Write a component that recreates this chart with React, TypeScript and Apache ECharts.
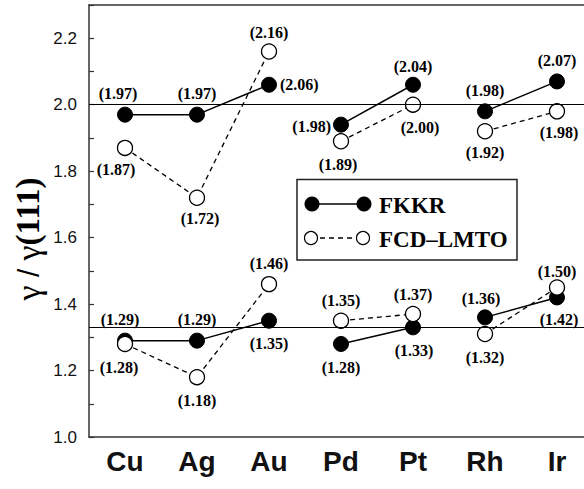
import React, { useEffect, useRef } from "react";
import * as echarts from "echarts";

const categories = ["Cu", "Ag", "Au", "Pd", "Pt", "Rh", "Ir"];

const fkkrUpper = [1.97, 1.97, 2.06, 1.94, 2.06, 1.98, 2.07];
const fkkrUpperLabels = ["1.97", "1.97", "2.06", "1.98", "2.04", "1.98", "2.07"];
const fcdUpper = [1.87, 1.72, 2.16, 1.89, 2.0, 1.92, 1.98];
const fcdUpperLabels = ["1.87", "1.72", "2.16", "1.89", "2.00", "1.92", "1.98"];

const fkkrLower = [1.29, 1.29, 1.35, 1.28, 1.33, 1.36, 1.42];
const fkkrLowerLabels = ["1.29", "1.29", "1.35", "1.28", "1.33", "1.36", "1.42"];
const fcdLower = [1.28, 1.18, 1.46, 1.35, 1.37, 1.31, 1.45];
const fcdLowerLabels = ["1.28", "1.18", "1.46", "1.35", "1.37", "1.32", "1.50"];

const groups = [[0, 1, 2], [3, 4], [5, 6]];
const referenceLines = [2.0, 4 / 3];

type Place = [string, number, number, number?];
// label placement: position, offsetX, offsetY, distance
const fkkrUpperPlace: Place[] = [
  ["top", -7, 0], ["top", 0, 0], ["right", 0, 0, 3], ["left", 0, 2, 2],
  ["top", 0, 0, 2], ["top", 0, 0], ["top", 0, 0],
];
const fcdUpperPlace: Place[] = [
  ["bottom", -9, 0], ["bottom", 3, 0], ["top", 0, 0, 3], ["bottom", -3, 2],
  ["bottom", 7, 2], ["bottom", 0, 0], ["bottom", 2, 0],
];
const fkkrLowerPlace: Place[] = [
  ["top", -5, 0], ["top", 0, 0], ["bottom", 0, 0, 7], ["bottom", 0, 0, 8],
  ["bottom", 1, 0, 7], ["top", -4, 0, 3], ["bottom", 2, 0, 6],
];
const fcdLowerPlace: Place[] = [
  ["bottom", -6, 0, 7], ["bottom", 0, 0, 7], ["top", 0, 0, 4], ["top", 0, 0, 4],
  ["top", 0, 0, 3], ["bottom", 0, 0, 7], ["top", 0, 0, 0],
];

const LABEL_FONT = "Liberation Serif";

function buildSeries(
  name: string,
  values: number[],
  labels: string[],
  places: Place[],
  filled: boolean
) {
  return groups.map((g) => ({
    name,
    type: "line",
    z: filled ? 3 : 4,
    symbol: "circle",
    symbolSize: 15,
    showSymbol: true,
    connectNulls: false,
    itemStyle: filled
      ? { color: "#000", borderColor: "#000", borderWidth: 1 }
      : { color: "#fff", borderColor: "#000", borderWidth: 1.3 },
    lineStyle: filled
      ? { color: "#000", width: 1.5, type: "solid" }
      : { color: "#000", width: 1.3, type: [5, 4] },
    data: categories.map((_, i) => {
      if (!g.includes(i)) return "-";
      const p = places[i];
      return {
        value: values[i],
        label: {
          show: true,
          position: p[0],
          offset: [p[1], p[2]],
          distance: p[3] ?? 5,
          formatter: `(${labels[i]})`,
          fontFamily: LABEL_FONT,
          fontWeight: "bold",
          fontSize: 16,
          color: "#000",
        },
      };
    }),
  }));
}

export default function App() {
  const ref = useRef<HTMLDivElement>(null);

  useEffect(() => {
    if (!ref.current) return;
    const chart = echarts.init(ref.current, null, { renderer: "svg" });

    const series: any[] = [
      {
        name: "ref",
        type: "line",
        z: 1,
        data: [],
        silent: true,
        markLine: {
          silent: true,
          symbol: "none",
          label: { show: false },
          lineStyle: { color: "#000", width: 1.2, type: "solid" },
          data: referenceLines.map((v) => ({ yAxis: v })),
        },
      },
      ...buildSeries("FKKR", fkkrUpper, fkkrUpperLabels, fkkrUpperPlace, true),
      ...buildSeries("FKKR", fkkrLower, fkkrLowerLabels, fkkrLowerPlace, true),
      ...buildSeries("FCD–LMTO", fcdUpper, fcdUpperLabels, fcdUpperPlace, false),
      ...buildSeries("FCD–LMTO", fcdLower, fcdLowerLabels, fcdLowerPlace, false),
    ];

    const axisColor = "#333";

    chart.setOption({
      animation: false,
      backgroundColor: "#fff",
      grid: { left: 89, right: 7, top: 5, bottom: 52, containLabel: false },
      xAxis: [
        {
          type: "category",
          data: categories,
          position: "bottom",
          boundaryGap: true,
          axisLine: { lineStyle: { color: axisColor, width: 1.5 } },
          axisTick: { inside: true, length: 5, alignWithLabel: true, lineStyle: { color: axisColor, width: 1.2 } },
          axisLabel: {
            margin: 10,
            fontFamily: "Liberation Sans",
            fontWeight: "bold",
            fontSize: 28,
            color: "#111",
          },
          splitLine: { show: false },
        },
        {
          type: "category",
          data: categories,
          position: "top",
          boundaryGap: true,
          axisLine: { lineStyle: { color: axisColor, width: 1.5 } },
          axisTick: { inside: true, length: 5, alignWithLabel: true, lineStyle: { color: axisColor, width: 1.2 } },
          axisLabel: { show: false },
          splitLine: { show: false },
        },
      ],
      yAxis: {
        type: "value",
        min: 1.0,
        max: 2.3,
        interval: 0.1,
        axisLine: { show: true, lineStyle: { color: axisColor, width: 1.5 } },
        axisTick: { show: true, inside: true, length: 5, lineStyle: { color: axisColor, width: 1.2 } },
        axisLabel: {
          margin: 12,
          fontFamily: "Liberation Sans",
          fontSize: 17,
          color: "#111",
          formatter: (v: number) => (Math.round(v * 10) % 2 === 0 ? v.toFixed(1) : ""),
        },
        splitLine: { show: false },
      },
      graphic: [
        {
          type: "text",
          x: 28,
          y: 239,
          rotation: Math.PI / 2,
          style: {
            text: "{g|γ}{s| / }{g|γ}{b|(111)}",
            align: "center",
            verticalAlign: "middle",
            fill: "#000",
            rich: {
              g: { fontFamily: "Liberation Serif", fontSize: 34, fill: "#000" },
              s: { fontFamily: "Liberation Sans", fontSize: 30, fill: "#000" },
              b: { fontFamily: "Liberation Serif", fontWeight: "bold", fontSize: 33, fill: "#000" },
            },
          },
        },
        {
          type: "group",
          children: [
            {
              type: "rect",
              shape: { x: 297, y: 179.5, width: 220, height: 80.5 },
              style: { fill: "#fff", stroke: "#222", lineWidth: 1.5 },
            },
            {
              type: "line",
              shape: { x1: 312, y1: 204, x2: 364, y2: 204 },
              style: { stroke: "#000", lineWidth: 1.5 },
            },
            { type: "circle", shape: { cx: 312, cy: 204, r: 7.5 }, style: { fill: "#000" } },
            { type: "circle", shape: { cx: 364, cy: 204, r: 7.5 }, style: { fill: "#000" } },
            {
              type: "text",
              x: 379,
              y: 205,
              style: {
                text: "FKKR",
                fontFamily: LABEL_FONT,
                fontWeight: "bold",
                fontSize: 23,
                fill: "#000",
                verticalAlign: "middle",
                align: "left",
              },
            },
            {
              type: "line",
              shape: { x1: 311, y1: 238, x2: 363, y2: 238 },
              style: { stroke: "#000", lineWidth: 1.3, lineDash: [5, 4] },
            },
            { type: "circle", shape: { cx: 311, cy: 238, r: 6.5 }, style: { fill: "#fff", stroke: "#000", lineWidth: 1.2 } },
            { type: "circle", shape: { cx: 363, cy: 238, r: 6.5 }, style: { fill: "#fff", stroke: "#000", lineWidth: 1.2 } },
            {
              type: "text",
              x: 379,
              y: 239,
              style: {
                text: "FCD–LMTO",
                fontFamily: LABEL_FONT,
                fontWeight: "bold",
                fontSize: 23,
                fill: "#000",
                verticalAlign: "middle",
                align: "left",
              },
            },
          ],
        },
      ],
      series,
    });

    return () => chart.dispose();
  }, []);

  return (
    <div
      style={{
        position: "fixed",
        left: 0,
        top: 0,
        width: 584,
        height: 489,
        overflow: "hidden",
        background: "#fff",
      }}
    >
      <div ref={ref} style={{ width: 600, height: 489 }} />
    </div>
  );
}
